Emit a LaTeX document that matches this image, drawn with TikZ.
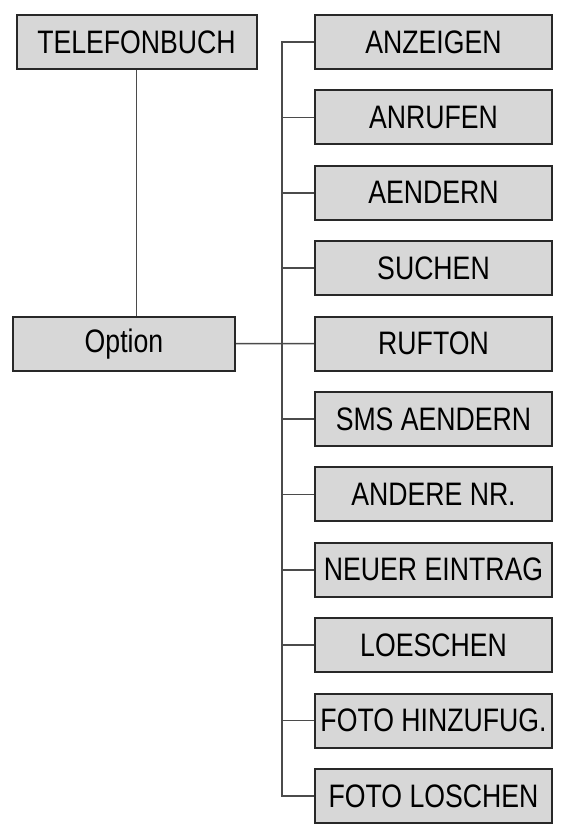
\documentclass[tikz,border=0pt]{standalone}
\usepackage{fontspec}
\setmainfont{Liberation Sans}[FakeStretch=0.82]
\usepackage{tikz}
\usetikzlibrary{positioning}

\definecolor{boxgray}{RGB}{215,215,215}
\definecolor{edgegray}{RGB}{40,40,40}
\definecolor{linegray}{RGB}{75,75,75}

\begin{document}
\begin{tikzpicture}[x=1pt,y=-1pt,every node/.style={draw=edgegray,line width=2pt,fill=boxgray,text badly centered,inner sep=0pt,font=\fontsize{32.5}{38}\selectfont}]

% Define block styles
\tikzstyle{menu} = [minimum width=240pt, minimum height=54pt]
\tikzstyle{item} = [minimum width=237pt, minimum height=54pt, node distance=75.4pt]
\tikzstyle{line} = [draw=linegray, line width=1.6pt];

\useasboundingbox (0,0) rectangle (562,826);

\node [menu] (phonebook) at (136.5,42) {TELEFONBUCH};
\node [menu, minimum width=222pt, below of=phonebook, node distance=301.6pt, xshift=-12.5pt] (option) {Option};

\node [item, right of=phonebook, node distance=297pt] (show) {ANZEIGEN};
\node [item, below of=show] (call) {ANRUFEN};
\node [item, below of=call] (edit) {AENDERN};
\node [item, below of=edit] (search) {SUCHEN};
\node [item, below of=search] (ringtone) {RUFTON};
\node [item, below of=ringtone] (smsedit) {SMS AENDERN};
\node [item, below of=smsedit] (othernr) {ANDERE NR.};
\node [item, below of=othernr] (newentry) {NEUER EINTRAG};
\node [item, below of=newentry] (delete) {LOESCHEN};
\node [item, below of=delete] (photoadd) {FOTO HINZUFUG.};
\node [item, below of=photoadd] (photodel) {FOTO LOSCHEN};

\coordinate [left=32pt of show.west] (trunk);

\draw [line] (phonebook.south) -- (phonebook.south |- option.north);
\draw [line] (option.east) -- (ringtone.west);

\draw [line] (show.west) -- (trunk) |- (photodel.west);
\foreach \n in {call,edit,search,ringtone,smsedit,othernr,newentry,delete,photoadd}
  \draw [line] (\n.west) -- (\n.west -| trunk);

\end{tikzpicture}
\end{document}
